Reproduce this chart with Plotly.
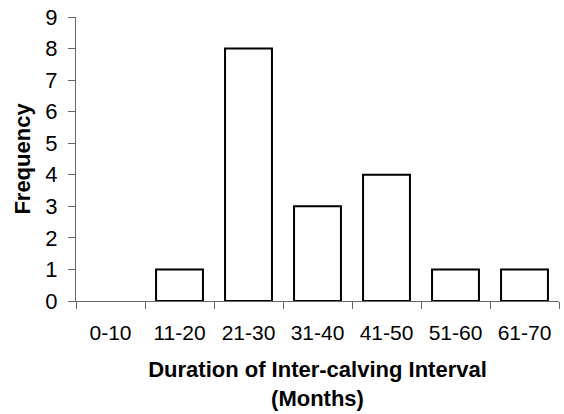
import plotly.graph_objects as go

# ── data ──────────────────────────────────────────────────────────────────────
intervals = ["0-10", "11-20", "21-30", "31-40", "41-50", "51-60", "61-70"]
frequency = [0, 1, 8, 3, 4, 1, 1]

y_ticks = list(range(0, 10))

FONT = "Liberation Sans, Arial, sans-serif"
AXIS_COLOR = "#666"

# empty bins draw no outline
outline_w = [0 if f == 0 else 2 for f in frequency]

fig = go.Figure()

fig.add_trace(go.Bar(
    x=intervals,
    y=frequency,
    marker=dict(color="white", line=dict(color="black", width=outline_w)),
    showlegend=False,
))

fig.update_layout(
    width=564, height=414,
    paper_bgcolor="white",
    plot_bgcolor="white",
    margin=dict(l=76, r=5, t=17, b=113),
    bargap=0.32,
    font=dict(family=FONT, size=22, color="black"),
)

fig.update_xaxes(
    type="category",
    showline=True, linecolor=AXIS_COLOR, linewidth=1,
    ticks="outside", tickson="boundaries", ticklen=7,
    tickcolor=AXIS_COLOR,
    showgrid=False, zeroline=False,
    tickfont=dict(size=21),
    ticklabelstandoff=13,
    title=dict(
        text="<b>Duration of Inter-calving Interval<br>(Months)</b>",
        font=dict(size=22),
        standoff=18,
    ),
    automargin=False,
)

fig.update_yaxes(
    range=[0, 9],
    tickvals=y_ticks,
    showline=True, linecolor=AXIS_COLOR, linewidth=1,
    ticks="outside", ticklen=7, tickcolor=AXIS_COLOR,
    showgrid=False, zeroline=False,
    tickfont=dict(size=22),
    ticklabelstandoff=6,
    title=dict(text="<b>Frequency</b>", font=dict(size=22), standoff=8),
    automargin=False,
)

# drop the browser's default 8px body margin so the figure sits at the page origin
fig.write_html(
    "out.html",
    config={"displayModeBar": False},
    post_script="document.body.style.margin='0';",
)
